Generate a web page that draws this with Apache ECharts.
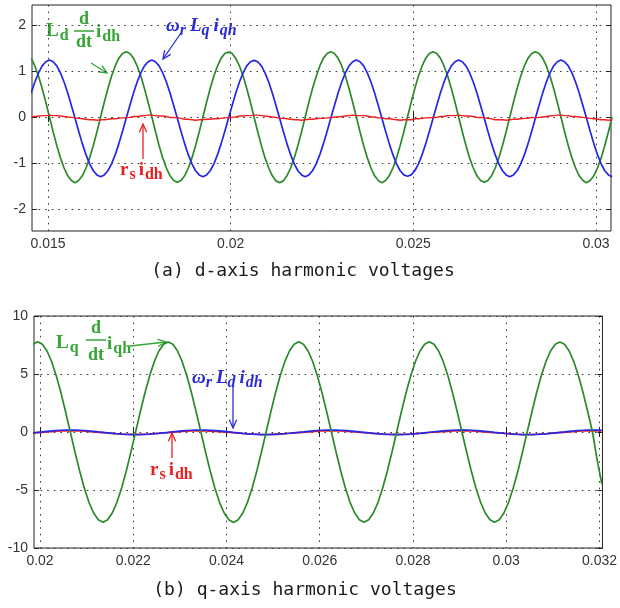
<!DOCTYPE html>
<html><head><meta charset="utf-8">
<script src="https://cdn.jsdelivr.net/npm/echarts@6/dist/echarts.min.js"></script>
<style>html,body{margin:0;padding:0;background:#fff}#c{width:620px;height:608px}</style>
</head><body><div id="c"></div>
<script>
// ---------------- data ----------------
const topTimeStart = 0.01454, topTimeStep = 0.0001;   // sample grid of plot (a), s
const botTimeStart = 0.01985, botTimeStep = 0.0001;   // sample grid of plot (b), s

// (a) L_d d/dt i_dh
const topGreen = [1.28,1.11,0.89,0.62,0.32,0.00,-0.32,-0.62,-0.89,-1.11,-1.28,-1.38,-1.43,-1.38,-1.28,-1.11,-0.89,-0.62,-0.32,0.00,0.32,0.62,0.89,1.11,1.28,1.38,
1.42,1.38,1.28,1.11,0.89,0.62,0.32,0.01,-0.31,-0.62,-0.89,-1.11,-1.28,-1.38,-1.42,-1.38,-1.28,-1.11,-0.89,-0.62,-0.32,0.00,0.32,0.62,0.89,1.11,1.28,1.38,
1.41,1.38,1.27,1.11,0.89,0.62,0.32,0.00,-0.32,-0.62,-0.89,-1.11,-1.28,-1.39,-1.43,-1.39,-1.28,-1.11,-0.89,-0.62,-0.32,0.00,0.32,0.62,0.88,1.11,1.28,1.38,
1.42,1.38,1.28,1.11,0.89,0.62,0.32,0.00,-0.32,-0.62,-0.89,-1.11,-1.28,-1.38,-1.43,-1.38,-1.28,-1.11,-0.89,-0.62,-0.32,0.00,0.32,0.62,0.89,1.11,1.28,1.38,
1.42,1.38,1.28,1.11,0.89,0.62,0.32,0.00,-0.32,-0.62,-0.89,-1.11,-1.28,-1.38,-1.42,-1.38,-1.28,-1.11,-0.89,-0.62,-0.32,0.00,0.32,0.62,0.89,1.11,1.28,1.38,
1.42,1.38,1.28,1.11,0.89,0.62,0.32,0.00,-0.32,-0.62,-0.89,-1.11,-1.28,-1.38,-1.43,-1.38,-1.28,-1.11,-0.89,-0.62,-0.32,0.00];
// (a) w_r L_q i_qh
const topBlue = [0.52,0.76,0.96,1.11,1.20,1.24,1.20,1.11,0.96,0.76,0.52,0.25,-0.03,-0.31,-0.58,-0.82,-1.02,-1.17,-1.26,-1.30,-1.26,-1.17,-1.02,-0.82,-0.58,-0.31,
-0.03,0.25,0.52,0.76,0.96,1.11,1.20,1.24,1.20,1.11,0.96,0.76,0.52,0.25,-0.03,-0.31,-0.58,-0.82,-1.02,-1.17,-1.26,-1.30,-1.26,-1.17,-1.02,-0.82,-0.58,-0.31,
-0.03,0.25,0.52,0.76,0.96,1.11,1.20,1.23,1.20,1.11,0.96,0.76,0.52,0.25,-0.03,-0.31,-0.58,-0.82,-1.02,-1.17,-1.26,-1.30,-1.26,-1.17,-1.02,-0.82,-0.58,-0.31,
-0.03,0.25,0.52,0.76,0.96,1.11,1.20,1.24,1.20,1.11,0.96,0.76,0.52,0.25,-0.03,-0.31,-0.58,-0.82,-1.02,-1.17,-1.26,-1.29,-1.26,-1.17,-1.02,-0.82,-0.58,-0.31,
-0.03,0.25,0.52,0.76,0.96,1.11,1.20,1.24,1.20,1.11,0.96,0.76,0.52,0.25,-0.03,-0.31,-0.58,-0.82,-1.02,-1.17,-1.26,-1.30,-1.26,-1.17,-1.02,-0.82,-0.58,-0.31,
-0.03,0.25,0.52,0.76,0.96,1.11,1.20,1.24,1.20,1.11,0.96,0.76,0.52,0.25,-0.03,-0.31,-0.58,-0.82,-1.02,-1.17,-1.26,-1.30];
// (a) r_s i_dh
const topRed = [0.00,0.01,0.02,0.03,0.03,0.04,0.03,0.03,0.02,0.01,0.00,-0.01,-0.02,-0.03,-0.04,-0.05,-0.06,-0.06,-0.07,-0.06,-0.06,-0.05,-0.04,-0.04,-0.03,-0.02,
-0.02,-0.01,0.01,0.01,0.02,0.03,0.04,0.04,0.03,0.02,0.02,0.01,-0.01,-0.01,-0.02,-0.03,-0.05,-0.05,-0.06,-0.07,-0.06,-0.06,-0.05,-0.05,-0.04,-0.04,-0.03,-0.02,
-0.01,-0.01,0.00,0.02,0.02,0.03,0.03,0.04,0.04,0.03,0.02,0.01,0.00,-0.01,-0.03,-0.03,-0.04,-0.05,-0.06,-0.06,-0.07,-0.06,-0.05,-0.05,-0.04,-0.03,-0.03,-0.02,
-0.02,0.00,0.00,0.01,0.02,0.03,0.04,0.03,0.03,0.03,0.02,0.00,0.00,-0.02,-0.02,-0.04,-0.04,-0.05,-0.06,-0.07,-0.06,-0.06,-0.06,-0.04,-0.04,-0.03,-0.02,-0.02,
-0.01,-0.01,0.01,0.01,0.03,0.03,0.03,0.04,0.03,0.02,0.02,0.01,-0.01,-0.01,-0.02,-0.03,-0.04,-0.06,-0.06,-0.06,-0.07,-0.06,-0.05,-0.05,-0.04,-0.03,-0.03,-0.01,
-0.02,-0.01,0.00,0.01,0.02,0.03,0.04,0.04,0.03,0.03,0.01,0.01,0.00,-0.01,-0.02,-0.03,-0.04,-0.05,-0.06,-0.06,-0.07,-0.06];

// (b) L_q d/dt i_qh
const botGreen = [7.56,
7.78,7.56,6.98,6.06,4.83,3.36,1.72,0.00,-1.72,-3.36,-4.83,-6.06,-6.98,-7.56,-7.78,-7.56,-6.98,-6.06,-4.83,-3.36,-1.72,0.00,1.72,3.36,4.83,6.06,6.98,7.56,
7.76,7.56,6.98,6.06,4.83,3.36,1.72,0.00,-1.72,-3.36,-4.83,-6.06,-6.98,-7.56,-7.80,-7.56,-6.98,-6.06,-4.83,-3.36,-1.72,0.00,1.72,3.36,4.83,6.06,6.98,7.56,
7.78,7.56,6.98,6.06,4.83,3.36,1.72,0.00,-1.72,-3.36,-4.83,-6.06,-6.98,-7.56,-7.78,-7.56,-6.98,-6.06,-4.83,-3.36,-1.72,0.00,1.72,3.36,4.83,6.06,6.98,7.56,
7.78,7.56,6.98,6.06,4.83,3.36,1.72,0.00,-1.72,-3.36,-4.83,-6.06,-6.98,-7.56,-7.78,-7.56,-6.98,-6.06,-4.83,-3.36,-1.72,0.00,1.72,3.36,4.83,6.06,6.98,7.56,
7.76,7.56,6.98,6.06,4.83,3.36,1.72,0.00,-2.40,-4.50];
// (b) w_r L_d i_dh
const botBlue = [-0.07,
-0.03,0.01,0.06,0.09,0.13,0.15,0.16,0.17,0.16,0.15,0.13,0.09,0.06,0.01,-0.03,-0.07,-0.12,-0.15,-0.19,-0.21,-0.22,-0.23,-0.22,-0.21,-0.19,-0.15,-0.12,-0.07,
-0.03,0.02,0.06,0.10,0.13,0.15,0.17,0.17,0.16,0.14,0.12,0.09,0.05,0.01,-0.04,-0.08,-0.12,-0.16,-0.19,-0.21,-0.23,-0.23,-0.22,-0.20,-0.18,-0.15,-0.11,-0.07,
-0.03,0.01,0.06,0.09,0.13,0.15,0.16,0.17,0.16,0.15,0.13,0.09,0.06,0.01,-0.03,-0.07,-0.12,-0.15,-0.19,-0.21,-0.22,-0.23,-0.22,-0.21,-0.19,-0.15,-0.12,-0.07,
-0.02,0.02,0.06,0.09,0.12,0.15,0.17,0.18,0.17,0.15,0.13,0.10,0.06,0.02,-0.03,-0.07,-0.11,-0.15,-0.18,-0.21,-0.22,-0.22,-0.22,-0.21,-0.19,-0.16,-0.12,-0.07,
-0.03,0.01,0.06,0.09,0.13,0.15,0.16,0.17,0.16,0.15];
// (b) r_s i_dh
const botRed = [-0.08,
-0.05,-0.03,0.00,0.03,0.06,0.08,0.09,0.10,0.09,0.08,0.06,0.03,0.00,-0.03,-0.06,-0.09,-0.12,-0.15,-0.18,-0.19,-0.20,-0.21,-0.20,-0.19,-0.17,-0.14,-0.11,-0.08,
-0.05,-0.02,0.00,0.04,0.06,0.08,0.10,0.10,0.09,0.07,0.05,0.03,-0.01,-0.03,-0.07,-0.10,-0.13,-0.15,-0.17,-0.19,-0.21,-0.21,-0.20,-0.18,-0.16,-0.14,-0.11,-0.07,
-0.05,-0.03,0.00,0.03,0.06,0.08,0.09,0.10,0.09,0.08,0.06,0.03,0.00,-0.03,-0.06,-0.09,-0.12,-0.15,-0.18,-0.19,-0.20,-0.21,-0.20,-0.19,-0.17,-0.14,-0.11,-0.08,
-0.04,-0.02,0.01,0.03,0.05,0.08,0.09,0.11,0.10,0.08,0.06,0.03,0.01,-0.03,-0.06,-0.09,-0.12,-0.14,-0.17,-0.19,-0.21,-0.21,-0.21,-0.19,-0.17,-0.15,-0.11,-0.08,
-0.05,-0.03,0.00,0.03,0.06,0.08,0.09,0.10,0.09,0.08];

// tick values / labels
const topXTicks = [0.015, 0.02, 0.025, 0.03];
const topXTickLabels = ['0.015', '0.02', '0.025', '0.03'];
const topYTicks = [-2, -1, 0, 1, 2];
const topYTickLabels = ['-2', '-1', '0', '1', '2'];
const botXTicks = [0.02, 0.022, 0.024, 0.026, 0.028, 0.03, 0.032];
const botXTickLabels = ['0.02', '0.022', '0.024', '0.026', '0.028', '0.03', '0.032'];
const botYTicks = [-10, -5, 0, 5, 10];
const botYTickLabels = ['-10', '-5', '0', '5', '10'];
const captions = ['(a) d-axis harmonic voltages', '(b) q-axis harmonic voltages'];

// ---------------- chart ----------------
function pairs(vals, t0, dt) {
  return vals.map((v, i) => [+(t0 + i * dt).toFixed(6), v]);
}
function labelFrom(ticks, labels) {
  return function (v) {
    for (let i = 0; i < ticks.length; i++) if (Math.abs(ticks[i] - v) < 1e-9) return labels[i];
    return '';
  };
}
const C_GREEN = '#2c8a2c', C_BLUE = '#2626e6', C_RED = '#ee2020';
const T_GREEN = '#35a535', T_BLUE = '#2b2bd8', T_RED = '#e82020';
const GRID_LINE = { show: true, lineStyle: { color: '#3a3a3a', width: 1, type: [1.6, 5] } };
const LBL = { color: '#333', fontSize: 14, fontFamily: 'Liberation Sans, Arial, sans-serif' };

function xAx(grid, min, max, ticks, labels, pos) {
  const main = pos === 'bottom';
  return {
    type: 'value', gridIndex: grid, position: pos, min: min, max: max,
    axisLine: { show: false },
    axisTick: { show: true, inside: true, length: 5, customValues: ticks, lineStyle: { color: '#222' } },
    axisLabel: Object.assign({ show: main, customValues: ticks, margin: 6, formatter: labelFrom(ticks, labels) }, LBL),
    splitLine: main ? GRID_LINE : { show: false }
  };
}
function yAx(grid, min, max, ticks, labels, pos) {
  const main = pos === 'left';
  return {
    type: 'value', gridIndex: grid, position: pos, min: min, max: max,
    axisLine: { show: false },
    axisTick: { show: true, inside: true, length: 5, customValues: ticks, lineStyle: { color: '#222' } },
    axisLabel: Object.assign({ show: main, customValues: ticks, margin: 6, formatter: labelFrom(ticks, labels) }, LBL),
    splitLine: main ? GRID_LINE : { show: false }
  };
}
function line(data, xi, yi, color, w) {
  return { type: 'line', xAxisIndex: xi, yAxisIndex: yi, data: data, showSymbol: false,
    symbol: 'none', lineStyle: { color: color, width: w }, itemStyle: { color: color }, silent: true };
}

// annotation helpers (rich text with subscripts, fractions, arrows)
function rich(x, y, color, italic, parts) {
  const r = {};
  let text = '';
  parts.forEach((p, i) => {
    const sub = p[1];
    r['t' + i] = { fontSize: sub ? 16 : 19, fontWeight: 'bold', fontStyle: italic ? 'italic' : 'normal',
      fontFamily: 'Liberation Serif, Times New Roman, serif', fill: color,
      padding: [sub ? 9 : 0, 0, 0, p[2] || 0] };
    text += '{t' + i + '|' + p[0] + '}';
  });
  return { type: 'text', x: x, y: y, silent: true,
    style: { text: text, rich: r, align: 'left', verticalAlign: 'middle' } };
}
function frac(cx, yTop, yBar, yBot, halfW, color) {
  const f = 'bold 18px "Liberation Serif", serif';
  return [
    { type: 'text', x: cx, y: yTop, silent: true, style: { text: 'd', font: f, fill: color, align: 'center', verticalAlign: 'middle' } },
    { type: 'line', silent: true, shape: { x1: cx - halfW, y1: yBar, x2: cx + halfW, y2: yBar }, style: { stroke: color, lineWidth: 1.5 } },
    { type: 'text', x: cx, y: yBot, silent: true, style: { text: 'dt', font: f, fill: color, align: 'center', verticalAlign: 'middle' } }
  ];
}
function arrow(x1, y1, x2, y2, color) {
  const a = Math.atan2(y2 - y1, x2 - x1), L = 9, s = 0.42;
  const p1 = [x2 - L * Math.cos(a - s), y2 - L * Math.sin(a - s)];
  const p2 = [x2 - L * Math.cos(a + s), y2 - L * Math.sin(a + s)];
  return [
    { type: 'line', silent: true, shape: { x1: x1, y1: y1, x2: x2, y2: y2 }, style: { stroke: color, lineWidth: 1.3 } },
    { type: 'polyline', silent: true, shape: { points: [p1, [x2, y2], p2] }, style: { stroke: color, lineWidth: 1.3, fill: null } }
  ];
}
function caption(x, y, text) {
  return { type: 'text', x: x, y: y, silent: true,
    style: { text: text, font: '18px "DejaVu Sans Mono", monospace', fill: '#1a1a1a', align: 'center', verticalAlign: 'middle' } };
}

const elements = [].concat(
  // plot (a)
  [rich(46, 31, T_GREEN, false, [['L', 0], ['d', 1, 1]])],
  frac(84, 19, 31, 42, 10, T_GREEN),
  [rich(96, 32, T_GREEN, false, [['i', 0], ['dh', 1, 1]])],
  arrow(91, 63, 107, 73, T_GREEN),
  [rich(166, 26, T_BLUE, true, [['ω', 0], ['r', 1], ['L', 0, 4], ['q', 1], ['i', 0, 4], ['qh', 1, 1]])],
  arrow(181, 33, 163, 59, T_BLUE),
  [rich(120, 170, T_RED, false, [['r', 0], ['s', 1, 1], ['i', 0, 3], ['dh', 1, 1]])],
  arrow(143, 159, 143, 124, T_RED),
  [caption(303, 271, captions[0])],
  // plot (b)
  [rich(56, 343, T_GREEN, false, [['L', 0], ['q', 1, 1]])],
  frac(96, 328, 340, 355, 10, T_GREEN),
  [rich(107, 344, T_GREEN, false, [['i', 0], ['qh', 1, 1]])],
  arrow(130, 346, 166, 342, T_GREEN),
  [rich(192, 378, T_BLUE, true, [['ω', 0], ['r', 1], ['L', 0, 4], ['d', 1], ['i', 0, 4], ['dh', 1, 1]])],
  arrow(233, 387, 233, 428, T_BLUE),
  [rich(150, 470, T_RED, false, [['r', 0], ['s', 1, 1], ['i', 0, 3], ['dh', 1, 1]])],
  arrow(172, 458, 172, 433, T_RED),
  [caption(305, 590, captions[1])]
);

const topMinX = 0.014562, topMaxX = 0.03041, topMinY = -2.48, topMaxY = 2.435;
const botMinX = 0.019871, botMaxX = 0.032064, botMinY = -10, botMaxY = 10;

const option = {
  animation: false,
  backgroundColor: '#fff',
  grid: [
    { left: 32, top: 5, width: 579, height: 226, show: true, borderColor: '#222', borderWidth: 1, backgroundColor: '#fff' },
    { left: 34, top: 316, width: 569, height: 232, show: true, borderColor: '#222', borderWidth: 1, backgroundColor: '#fff' }
  ],
  xAxis: [
    xAx(0, topMinX, topMaxX, topXTicks, topXTickLabels, 'bottom'),
    xAx(0, topMinX, topMaxX, topXTicks, topXTickLabels, 'top'),
    xAx(1, botMinX, botMaxX, botXTicks, botXTickLabels, 'bottom'),
    xAx(1, botMinX, botMaxX, botXTicks, botXTickLabels, 'top')
  ],
  yAxis: [
    yAx(0, topMinY, topMaxY, topYTicks, topYTickLabels, 'left'),
    yAx(0, topMinY, topMaxY, topYTicks, topYTickLabels, 'right'),
    yAx(1, botMinY, botMaxY, botYTicks, botYTickLabels, 'left'),
    yAx(1, botMinY, botMaxY, botYTicks, botYTickLabels, 'right')
  ],
  series: [
    line(pairs(topGreen, topTimeStart, topTimeStep), 0, 0, C_GREEN, 1.7),
    line(pairs(topBlue, topTimeStart, topTimeStep), 0, 0, C_BLUE, 1.7),
    line(pairs(topRed, topTimeStart, topTimeStep), 0, 0, C_RED, 1.4),
    line(pairs(botRed, botTimeStart, botTimeStep), 2, 2, C_RED, 1.6),
    line(pairs(botBlue, botTimeStart, botTimeStep), 2, 2, C_BLUE, 1.7),
    line(pairs(botGreen, botTimeStart, botTimeStep), 2, 2, C_GREEN, 1.7)
  ],
  graphic: { elements: elements }
};
const chart = echarts.init(document.getElementById('c'), null, { renderer: 'canvas' });
chart.setOption(option);
</script>
</body></html>
